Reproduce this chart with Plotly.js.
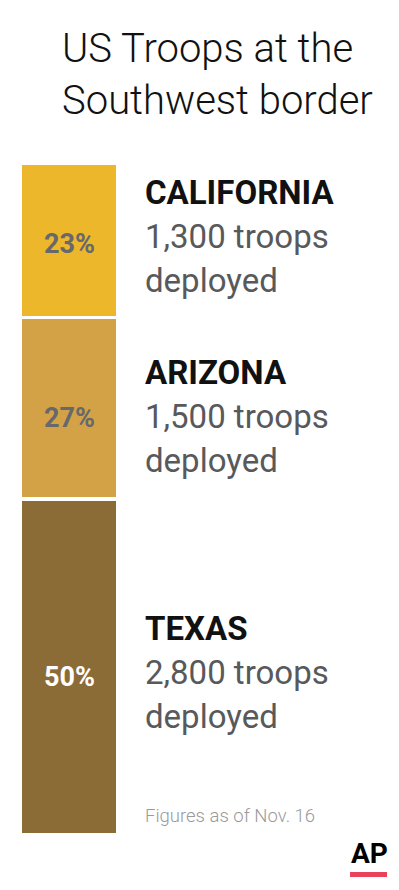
<!DOCTYPE html>
<html>
<head>
<meta charset="utf-8">
<script src="https://cdn.plot.ly/plotly-3.0.1.min.js"></script>
<style>html,body{margin:0;padding:0;background:#fff;}#chart{width:399px;height:890px;}</style>
</head>
<body>
<div id="chart"></div>
<script>
// ---- data ----
const states = ['CALIFORNIA', 'ARIZONA', 'TEXAS'];
const shares = [23, 27, 50];            // percent of troops
const troops = [1300, 1500, 2800];      // troops deployed
const titleText = 'US Troops at the<br>Southwest border';
const noteText = 'Figures as of Nov. 16';
const sourceText = 'AP';

// ---- styles ----
const colors = ['#ECB72B', '#D4A246', '#8B6B36'];
const pctColors = ['#67686B', '#67686B', '#FFFFFF'];
const rowShift = [4, -8, -5];   // px nudges for each label block
const pctShift = [-4, -10, -10];
const lineGap = 44;

const traces = states.map((s, i) => ({
  type: 'bar',
  x: [0],
  y: [shares[i]],
  name: s,
  width: 1,
  marker: {color: colors[i], line: {color: '#FFFFFF', width: 3.5}},
  hoverinfo: 'skip',
  showlegend: false
}));

const annotations = [];
let cum = 0;
states.forEach((s, i) => {
  const mid = cum + shares[i] / 2;
  cum += shares[i];
  const base = {xref: 'paper', yref: 'y', y: mid, yanchor: 'middle', showarrow: false};
  annotations.push(Object.assign({}, base, {
    x: 0.5, xanchor: 'center', text: '<b>' + shares[i] + '%</b>',
    yshift: pctShift[i],
    font: {family: 'Roboto', size: 27, color: pctColors[i]}
  }));
  annotations.push(Object.assign({}, base, {
    x: 1.26, xanchor: 'left', text: '<b>' + s + '</b>',
    yshift: rowShift[i] + lineGap,
    font: {family: 'Roboto', size: 33, color: '#111111'}
  }));
  annotations.push(Object.assign({}, base, {
    x: 1.26, xanchor: 'left', text: troops[i].toLocaleString('en-US') + ' troops',
    yshift: rowShift[i],
    font: {family: 'Roboto', size: 33, color: '#58595B'}
  }));
  annotations.push(Object.assign({}, base, {
    x: 1.26, xanchor: 'left', text: 'deployed',
    yshift: rowShift[i] - lineGap,
    font: {family: 'Roboto', size: 33, color: '#58595B'}
  }));
});

annotations.push({
  xref: 'paper', yref: 'paper', x: 1.26, y: 0.0, xanchor: 'left', yanchor: 'middle',
  yshift: 19, showarrow: false, text: noteText,
  font: {family: 'Roboto', size: 18.5, color: '#9A9A9A', weight: 300}
});
annotations.push({
  xref: 'paper', yref: 'paper', x: (369 - 20) / 98, y: 0, xanchor: 'center', yanchor: 'middle',
  yshift: -18, showarrow: false, text: '<b>' + sourceText + '</b>',
  font: {family: 'Roboto', size: 28, color: '#000000', weight: 900}
});

const layout = {
  width: 399, height: 890,
  margin: {l: 20, r: 281, t: 163, b: 55},
  paper_bgcolor: '#FFFFFF', plot_bgcolor: '#FFFFFF',
  barmode: 'stack',
  showlegend: false,
  title: {
    text: titleText,
    x: 62 / 399, xanchor: 'left', xref: 'container',
    y: 1 - 62 / 890, yanchor: 'top', yref: 'container',
    font: {family: 'Roboto', size: 40, color: '#111111', weight: 300}
  },
  xaxis: {range: [-0.5, 0.5], visible: false, fixedrange: true},
  yaxis: {range: [100, 0], visible: false, fixedrange: true},
  annotations: annotations,
  shapes: [{
    type: 'rect', xref: 'paper', yref: 'paper',
    x0: (350 - 20) / 98, x1: (387 - 20) / 98,
    y0: -(872 - 835) / 672, y1: -(877 - 835) / 672,
    fillcolor: '#E8435A', line: {width: 0}
  }]
};

Plotly.newPlot('chart', traces, layout, {displayModeBar: false, staticPlot: true});
</script>
</body>
</html>
